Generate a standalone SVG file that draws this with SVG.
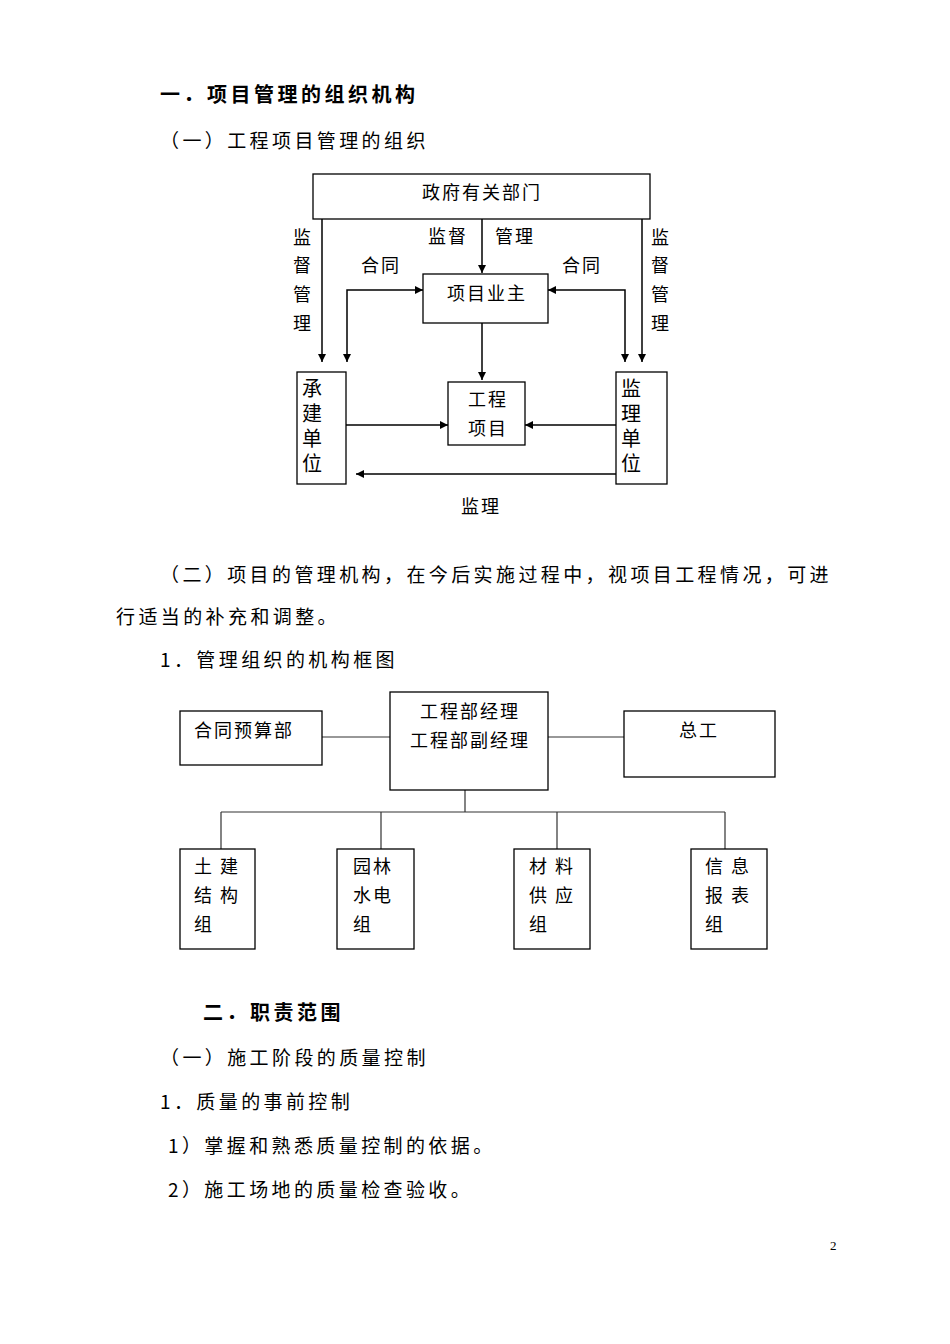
<svg xmlns="http://www.w3.org/2000/svg" width="950" height="1344" viewBox="0 0 950 1344">
<style>
text{font-family:"Noto Sans CJK SC","Liberation Serif",serif;fill:#000}
.t{font-size:19px;letter-spacing:3.4px}
.h{font-size:20px;font-weight:bold;letter-spacing:3.5px}
.s{font-size:18px;letter-spacing:2px}
.b{fill:#fff;stroke:#000;stroke-width:1.3}
.c{stroke:#000;stroke-width:1.5;fill:none}
.g{stroke:#333;stroke-width:1.2;fill:none}
</style>
<defs><marker id="a" viewBox="0 0 10 10" refX="10" refY="5" markerWidth="8" markerHeight="8" markerUnits="userSpaceOnUse" orient="auto-start-reverse"><path d="M0,0L10,5L0,10z" fill="#000"/></marker></defs>
<rect width="950" height="1344" fill="#fff"/>
<text class="h" x="160" y="102">一．项目管理的组织机构</text>
<text class="t" x="160" y="148">（一）工程项目管理的组织</text>
<g id="n_gov"><rect class="b" x="313" y="174" width="337" height="45"/><text class="s" x="482" y="199" text-anchor="middle">政府有关部门</text></g>
<g id="n_owner"><rect class="b" x="423" y="274" width="125" height="49"/><text class="s" x="487" y="300" text-anchor="middle" letter-spacing="5">项目业主</text></g>
<g id="n_proj"><rect class="b" x="448" y="382" width="77" height="63"/><text class="s" x="488" y="406" text-anchor="middle">工程</text><text class="s" x="488" y="435" text-anchor="middle">项目</text></g>
<g id="n_build"><rect class="b" x="297" y="372" width="49" height="112"/><text font-size="20"><tspan x="302" y="396">承</tspan><tspan x="302" y="421">建</tspan><tspan x="302" y="446">单</tspan><tspan x="302" y="471">位</tspan></text></g>
<g id="n_sup"><rect class="b" x="616" y="372" width="51" height="112"/><text font-size="20"><tspan x="621" y="396">监</tspan><tspan x="621" y="421">理</tspan><tspan x="621" y="446">单</tspan><tspan x="621" y="471">位</tspan></text></g>
<g id="connectors">
<path class="c" d="M322,219V362" marker-end="url(#a)"/>
<path class="c" d="M642,219V362" marker-end="url(#a)"/>
<path class="c" d="M482,219V273" marker-end="url(#a)"/>
<path class="c" d="M482,323V380" marker-end="url(#a)"/>
<path class="c" d="M347,362V290H423" marker-end="url(#a)" marker-start="url(#a)"/>
<path class="c" d="M625,362V290H548" marker-end="url(#a)" marker-start="url(#a)"/>
<path class="c" d="M346,425H448" marker-end="url(#a)"/>
<path class="c" d="M616,425H525" marker-end="url(#a)"/>
<path class="c" d="M616,474H356" marker-end="url(#a)"/>
<path class="g" d="M322,737H390M548,737H624M465,790V812M221,812H725M221,812V849M381,812V849M557,812V849M725,812V849"/>
</g>
<g>
<text class="s"><tspan x="293" y="244">监</tspan><tspan x="293" y="272">督</tspan><tspan x="293" y="301">管</tspan><tspan x="293" y="330">理</tspan></text>
<text class="s"><tspan x="651" y="244">监</tspan><tspan x="651" y="272">督</tspan><tspan x="651" y="301">管</tspan><tspan x="651" y="330">理</tspan></text>
<text class="s" x="428" y="243">监督</text><text class="s" x="495" y="243">管理</text>
<text class="s" x="361" y="272">合同</text><text class="s" x="562" y="272">合同</text>
<text class="s" x="461" y="513">监理</text>
</g>
<text class="t" x="160" y="582">（二）项目的管理机构，在今后实施过程中，视项目工程情况，可进</text>
<text class="t" x="116" y="624">行适当的补充和调整。</text>
<text class="t" x="160" y="667">1．管理组织的机构框图</text>
<g id="n_budget"><rect class="b" x="180" y="711" width="142" height="54"/><text class="s" x="194" y="737">合同预算部</text></g>
<g id="n_mgr"><rect class="b" x="390" y="692" width="158" height="98"/><text class="s" x="470" y="718" text-anchor="middle">工程部经理</text><text class="s" x="470" y="747" text-anchor="middle">工程部副经理</text></g>
<g id="n_chief"><rect class="b" x="624" y="711" width="151" height="66"/><text class="s" x="679" y="737">总工</text></g>
<g id="n_g1"><rect class="b" x="180" y="849" width="75" height="100"/><text class="s"><tspan x="194" y="873">土 建</tspan><tspan x="194" y="902">结 构</tspan><tspan x="194" y="931">组</tspan></text></g>
<g id="n_g2"><rect class="b" x="337" y="849" width="77" height="100"/><text class="s"><tspan x="353" y="873">园林</tspan><tspan x="353" y="902">水电</tspan><tspan x="353" y="931">组</tspan></text></g>
<g id="n_g3"><rect class="b" x="514" y="849" width="76" height="100"/><text class="s"><tspan x="529" y="873">材 料</tspan><tspan x="529" y="902">供 应</tspan><tspan x="529" y="931">组</tspan></text></g>
<g id="n_g4"><rect class="b" x="691" y="849" width="76" height="100"/><text class="s"><tspan x="705" y="873">信 息</tspan><tspan x="705" y="902">报 表</tspan><tspan x="705" y="931">组</tspan></text></g>
<text class="h" x="203" y="1020">二．职责范围</text>
<text class="t" x="160" y="1065">（一）施工阶段的质量控制</text>
<text class="t" x="160" y="1109">1．质量的事前控制</text>
<text class="t" x="168" y="1153">1）掌握和熟悉质量控制的依据。</text>
<text class="t" x="168" y="1197">2）施工场地的质量检查验收。</text>
<text x="830" y="1250" font-size="13" style="font-family:'Liberation Serif',serif">2</text>
</svg>
